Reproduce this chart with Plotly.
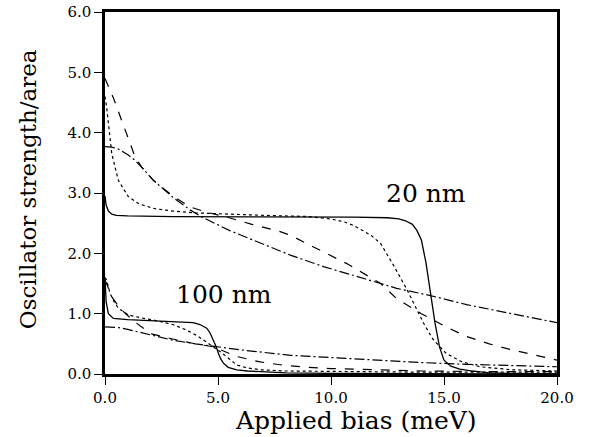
import plotly.graph_objects as go

# ---- data ----
x_20_solid = [0, 0.05, 0.15, 0.3, 0.5, 1, 3, 6, 9, 11, 12.5, 13.0, 13.3, 13.6, 13.8, 14.0, 14.2, 14.4, 14.6, 14.8, 15.0, 15.3, 15.7, 16.2, 17, 18, 20]
y_20_solid = [2.95, 2.8, 2.7, 2.65, 2.63, 2.62, 2.61, 2.61, 2.60, 2.60, 2.59, 2.57, 2.54, 2.48, 2.38, 2.22, 1.85, 1.34, 0.85, 0.45, 0.23, 0.13, 0.08, 0.05, 0.02, 0.01, 0.0]

x_20_dot = [0, 0.07, 0.3, 0.59, 1.03, 1.5, 2.2, 3, 4, 5.2, 7, 9, 10, 10.6, 11, 11.4, 11.8, 12.2, 12.8, 13.36, 13.7, 14.1, 14.5, 15.1, 15.8, 16.6, 18, 20]
y_20_dot = [4.6, 4.43, 3.65, 3.21, 2.94, 2.82, 2.74, 2.70, 2.67, 2.65, 2.63, 2.61, 2.57, 2.52, 2.46, 2.38, 2.29, 2.16, 1.78, 1.40, 1.15, 0.84, 0.58, 0.34, 0.20, 0.12, 0.07, 0.05]

x_20_dash = [0, 0.4, 0.74, 1.05, 1.33, 1.62, 2.14, 2.43, 3.0, 3.76, 4.5, 5.3, 6.5, 7.75, 8.2, 9.2, 10.7, 12.2, 12.9, 14, 15.1, 16, 17, 18, 19, 20]
y_20_dash = [4.9, 4.55, 4.2, 3.9, 3.60, 3.43, 3.21, 3.12, 2.95, 2.77, 2.68, 2.61, 2.48, 2.36, 2.30, 2.11, 1.83, 1.50, 1.25, 1.0, 0.78, 0.62, 0.5, 0.4, 0.31, 0.23]

x_20_dashdot = [0, 0.3, 0.59, 1.03, 1.33, 1.62, 2.14, 2.43, 3.0, 3.76, 4.3, 5.5, 7, 7.75, 8.2, 9.67, 11.4, 12.2, 12.9, 14.4, 16, 18, 20]
y_20_dashdot = [3.77, 3.76, 3.73, 3.63, 3.54, 3.43, 3.21, 3.12, 2.93, 2.72, 2.60, 2.38, 2.15, 2.04, 1.97, 1.78, 1.58, 1.50, 1.42, 1.30, 1.15, 1.0, 0.85]

x_100_solid = [0, 0.05, 0.15, 0.37, 1, 2.44, 3.5, 3.9, 4.2, 4.5, 4.65, 4.8, 4.92, 5.02, 5.12, 5.24, 5.45, 5.83, 6.3, 6.9, 8, 10, 20]
y_100_solid = [1.6, 1.2, 1.0, 0.92, 0.90, 0.88, 0.86, 0.85, 0.82, 0.76, 0.68, 0.56, 0.45, 0.34, 0.25, 0.18, 0.11, 0.07, 0.05, 0.04, 0.02, 0.01, 0.0]

x_100_dot = [0, 0.07, 0.22, 0.4, 0.59, 1.03, 1.6, 2.2, 3.0, 3.6, 4.1, 4.5, 5.1, 5.5, 5.83, 6.3, 6.9, 8, 10, 14, 20]
y_100_dot = [1.6, 1.56, 1.34, 1.2, 1.09, 0.98, 0.93, 0.89, 0.82, 0.73, 0.63, 0.53, 0.37, 0.25, 0.15, 0.10, 0.07, 0.05, 0.04, 0.03, 0.03]

x_100_dash = [0, 0.07, 0.3, 0.66, 1.0, 1.33, 1.7, 2.1, 3.0, 4.0, 4.8, 5.3, 5.83, 6.86, 8, 9, 10, 12, 14, 17, 20]
y_100_dash = [1.55, 1.5, 1.28, 1.09, 0.97, 0.86, 0.76, 0.66, 0.58, 0.50, 0.45, 0.37, 0.29, 0.20, 0.14, 0.11, 0.09, 0.07, 0.05, 0.04, 0.04]

x_100_dashdot = [0, 0.6, 1.0, 2.2, 3.0, 4.0, 4.95, 6, 8.2, 10, 12.2, 14, 16, 18, 20]
y_100_dashdot = [0.78, 0.77, 0.74, 0.63, 0.56, 0.50, 0.45, 0.40, 0.31, 0.27, 0.22, 0.19, 0.16, 0.14, 0.12]

x_ticks = [0, 5, 10, 15, 20]
x_tick_labels = ["0.0", "5.0", "10.0", "15.0", "20.0"]
y_ticks = [0, 1, 2, 3, 4, 5, 6]
y_tick_labels = ["0.0", "1.0", "2.0", "3.0", "4.0", "5.0", "6.0"]

labels = [("20 nm", 14.2, 3.0), ("100 nm", 5.25, 1.31)]
x_title = "Applied bias (meV)"
y_title = "Oscillator strength/area"

FONT = "DejaVu Serif"
DASHDOT = "10px,3px,2px,3px"

series = [
    (x_20_solid, y_20_solid, "solid", 1.3),
    (x_20_dot, y_20_dot, "dot", 1.2),
    (x_20_dash, y_20_dash, "dash", 1.2),
    (x_20_dashdot, y_20_dashdot, DASHDOT, 1.2),
    (x_100_solid, y_100_solid, "solid", 1.3),
    (x_100_dot, y_100_dot, "dot", 1.2),
    (x_100_dash, y_100_dash, "dash", 1.2),
    (x_100_dashdot, y_100_dashdot, DASHDOT, 1.2),
]

fig = go.Figure()
for xs, ys, dash, w in series:
    fig.add_trace(go.Scatter(x=xs, y=ys, mode="lines",
                             line=dict(color="black", width=w, dash=dash),
                             showlegend=False, hoverinfo="skip"))

for text, xv, yv in labels:
    fig.add_annotation(x=xv, y=yv, text=text, showarrow=False,
                       font=dict(family=FONT, size=25, color="black"))

# axis titles placed as annotations for exact positioning
fig.add_annotation(xref="paper", yref="paper", x=0.555, y=-0.128, text=x_title,
                   showarrow=False, xanchor="center", yanchor="middle",
                   font=dict(family=FONT, size=25, color="black"))
fig.add_annotation(xref="paper", yref="paper", x=-0.170, y=0.511, text=y_title,
                   showarrow=False, xanchor="center", yanchor="middle", textangle=-90,
                   font=dict(family=FONT, size=23, color="black"))

fig.update_layout(
    width=594, height=437,
    margin=dict(l=105, r=37, t=12, b=63),
    paper_bgcolor="white", plot_bgcolor="white",
    font=dict(family=FONT, color="black"),
)
fig.update_xaxes(range=[0, 20], tickvals=x_ticks, ticktext=x_tick_labels,
                 showgrid=False, zeroline=False, automargin=False,
                 showline=True, linewidth=2.5, linecolor="black", mirror=True,
                 ticks="outside", ticklen=8, tickwidth=1, tickcolor="black",
                 tickfont=dict(family=FONT, size=15))
fig.update_yaxes(range=[0, 6], tickvals=y_ticks, ticktext=y_tick_labels,
                 showgrid=False, zeroline=False, automargin=False,
                 showline=True, linewidth=2.5, linecolor="black", mirror=True,
                 ticks="outside", ticklen=8, tickwidth=1, tickcolor="black",
                 tickfont=dict(family=FONT, size=15))

# remove the default 8px page margin so the figure fills the window exactly
fig.write_html("out.html", config={"displayModeBar": False},
               post_script="document.body.style.margin='0';")
